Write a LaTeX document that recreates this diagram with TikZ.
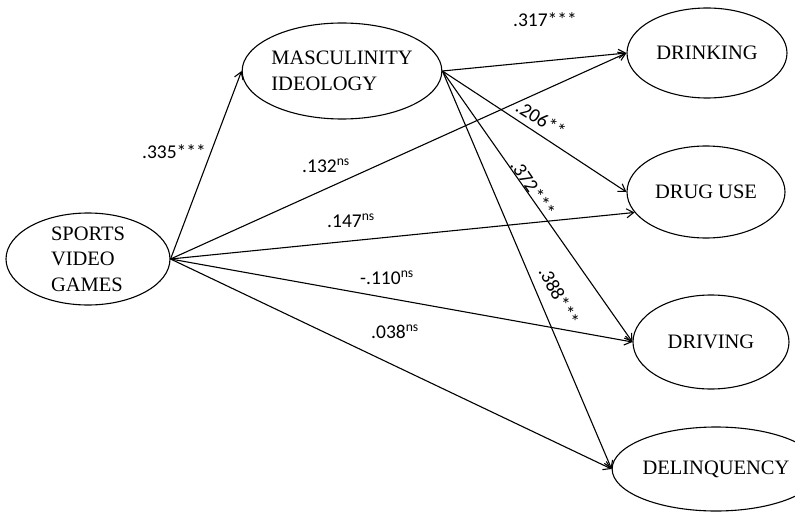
\documentclass[tikz,border=0pt]{standalone}
\usepackage{fontspec}
\setmainfont{Liberation Serif}
\newfontfamily\labfont{Carlito}
\usetikzlibrary{shapes.geometric,arrows.meta}
\begin{document}
\begin{tikzpicture}[x=1pt,y=-1pt,
  var/.style={draw,ellipse,line width=1.1pt,inner sep=0pt,align=left,
    font=\fontsize{20.5}{25.5}\selectfont},
  path/.style={line width=1.1pt,-{Straight Barb[length=7pt,width=9pt,line width=1.1pt]}},
  coef/.style={font=\labfont\fontsize{19.5}{22}\selectfont,inner sep=0pt}]
\useasboundingbox (0,0) rectangle (795,524);
\fill[white] (0,0) rectangle (795,524);
\node[var,minimum width=164pt,minimum height=92pt] (svg) at (88,259) {SPORTS\\VIDEO\\GAMES};
\node[var,minimum width=170pt,minimum height=96pt] (masc) at (342,71) {MASCULINITY\\IDEOLOGY};
\node[var,minimum width=160pt,minimum height=90pt] (drink) at (707,53) {DRINKING};
\node[var,minimum width=158pt,minimum height=92pt] (drug) at (706,192) {DRUG USE};
\node[var,minimum width=156pt,minimum height=94pt] (drive) at (711,342) {DRIVING};
\node[var,minimum width=158pt,minimum height=84pt] (delin) at (716,469) {DELINQUENCY};

\draw[path] (svg.east) -- (masc.west);
\draw[path] (svg.east) -- (drink.west);
\draw[path] (svg.east) -- (drug.196);
\draw[path] (svg.east) -- (drive.west);
\draw[path] (svg.east) -- (delin.west);
\draw[path] (masc.east) -- (drink.west);
\draw[path] (masc.east) -- (drug.west);
\draw[path] (masc.east) -- (drive.west);
\draw[path] (masc.east) -- (delin.west);

\node[coef] (c1) at (174,152) {.335***};
\node[coef] (c2) at (326,166) {.132\textsuperscript{ns}};
\node[coef] (c3) at (351,221) {.147\textsuperscript{ns}};
\node[coef] (c4) at (387,278) {-.110\textsuperscript{ns}};
\node[coef] (c5) at (395,332) {.038\textsuperscript{ns}};
\node[coef] (c6) at (545,20) {.317***};
\node[coef,rotate=-32] (c7) at (541,119) {.206**};
\node[coef,rotate=-56] (c8) at (533,188) {.372***};
\node[coef,rotate=-62] (c9) at (559,296) {.388***};
\end{tikzpicture}
\end{document}
